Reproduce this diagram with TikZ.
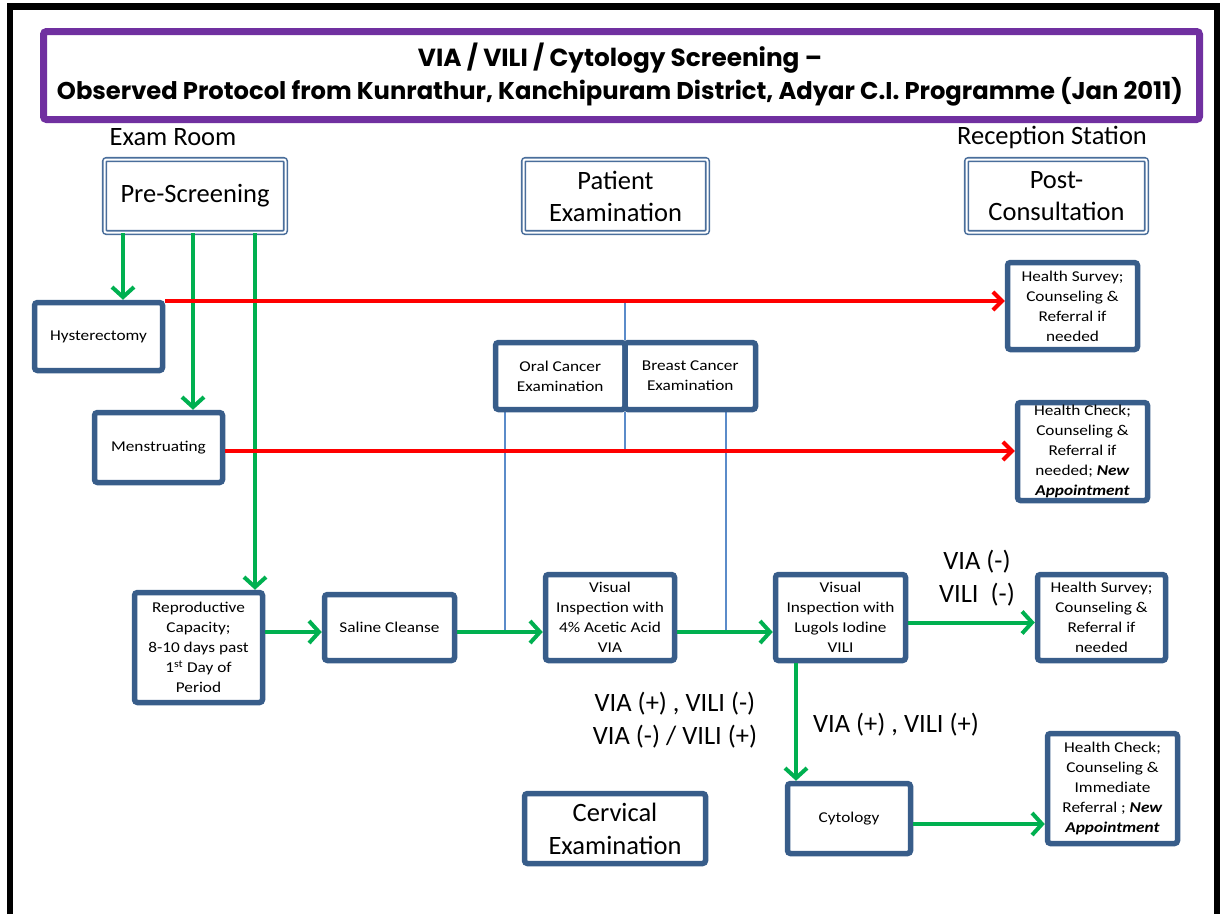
\documentclass[tikz,border=0pt]{standalone}
\usepackage{fontspec}
\usepackage{graphicx}
\setmainfont{Carlito}
\newfontfamily\smallfont{Carlito}[FakeStretch=1.15]
\newfontfamily\titlefont{Poppins}
\usetikzlibrary{arrows.meta}
\pgfdeclarelayer{background}
\pgfsetlayers{background,main}

\definecolor{boxblue}{HTML}{385D8A}
\definecolor{dblblue}{HTML}{4A6E9B}
\definecolor{flowgreen}{HTML}{00B050}
\definecolor{flowred}{HTML}{FF0000}
\definecolor{titlepurple}{HTML}{7030A0}
\definecolor{linkblue}{HTML}{5B8BC9}

\tikzset{
  stepbox/.style={draw=boxblue, line width=5.5pt, rounded corners=3pt, fill=white,
    align=center, inner sep=2pt, font=\smallfont\fontsize{15}{20}\selectfont},
  bigbox/.style={stepbox, font=\fontsize{26.5}{33}\selectfont},
  headbox/.style={draw=dblblue, double=white, double distance=2pt, line width=1.6pt,
    rounded corners=2pt, fill=white, align=center, font=\fontsize{26.5}{32}\selectfont},
  garrow/.style={draw=flowgreen, line width=4pt, -{Straight Barb[length=10pt,width=22pt]}},
  rarrow/.style={draw=flowred, line width=4pt, -{Straight Barb[length=9pt,width=18pt]}},
  link/.style={draw=linkblue, line width=1.4pt},
  caption/.style={font=\fontsize{26.5}{33}\selectfont, align=center, inner sep=0pt},
  titleline/.style={font=\titlefont\bfseries, inner sep=0pt},
}

\begin{document}
\begin{tikzpicture}[x=1pt, y=-1pt]
\useasboundingbox (0,0) rectangle (1220,914);

% outer frame
\draw[line width=6.5pt] (10,914) -- (10,6.5) -- (1217,6.5) -- (1217,914);

% title banner
\node[draw=titlepurple, line width=7pt, rounded corners=3pt, minimum width=1156pt,
      minimum height=88pt, inner sep=0pt] (title) at (621.5,75.5) {};
\node[titleline] (titleA) at (620,58)
  {\resizebox{404pt}{!}{VIA / VILI / Cytology Screening –}};
\node[titleline] (titleB) at (620,92)
  {\resizebox{1126pt}{!}{Observed Protocol from Kunrathur, Kanchipuram District, Adyar C.I. Programme (Jan 2011)}};

% station captions
\node[caption] (examroom) at (173,137) {Exam Room};
\node[caption] (reception) at (1052,137) {Reception Station};

% section heads
\node[headbox, minimum width=181pt, minimum height=73pt] (pre) at (195,196) {Pre-Screening};
\node[headbox, minimum width=184pt, minimum height=73pt] (patient) at (615.5,196) {Patient\\Examination};
\node[headbox, minimum width=180pt, minimum height=73pt] (post) at (1056.5,196) {Post-\\Consultation};

% coordinates of the connector rows
\coordinate (rowA) at (0,632);
\coordinate (redA) at (0,301);
\coordinate (redB) at (0,451);
\coordinate (midtop) at (625,301);
\coordinate (midbot) at (625,451);
\coordinate (leftlow) at (505,632);
\coordinate (rightlow) at (726,632);

% joint examinations
\node[stepbox, minimum width=129.5pt, minimum height=67pt] (oral) at (560.25,376) {Oral Cancer\\Examination};
\node[stepbox, minimum width=130.5pt, minimum height=67pt] (breast) at (690.25,376) {Breast Cancer\\Examination};

% thin links behind the boxes
\begin{pgfonlayer}{background}
\draw[link] (midtop) -- (midtop |- oral.north);
\draw[link] (midbot |- oral.south) -- (midbot);
\draw[link] (leftlow |- oral.south) -- (leftlow);
\draw[link] (rightlow |- breast.south) -- (rightlow);
\end{pgfonlayer}

% flow steps
\node[stepbox, minimum width=128pt, minimum height=68pt] (hyst) at (98.5,336.5) {Hysterectomy};
\node[stepbox, minimum width=128pt, minimum height=70pt] (mens) at (158.5,447.5) {Menstruating};
\node[stepbox, minimum width=128pt, minimum height=110pt] (repro) at (198.5,647.5)
  {Reproductive\\Capacity;\\8-10 days past\\1\textsuperscript{st} Day of\\Period};
\node[stepbox, minimum width=130pt, minimum height=66pt] (saline) at (389.5,627.5) {Saline Cleanse};
\node[stepbox, minimum width=129pt, minimum height=86pt] (via) at (610,617.5)
  {Visual\\Inspection with\\4\% Acetic Acid\\VIA};
\node[stepbox, minimum width=130pt, minimum height=86pt] (vili) at (840.5,617.5)
  {Visual\\Inspection with\\Lugols Iodine\\VILI};
\node[stepbox, minimum width=123pt, minimum height=70pt] (cyto) at (849,818.5) {Cytology};
\node[bigbox, minimum width=181pt, minimum height=70pt] (cervical) at (615,828.5) {Cervical\\Examination};

% outcomes
\node[stepbox, minimum width=130pt, minimum height=87pt] (survA) at (1072.5,306)
  {Health Survey;\\Counseling \&\\Referral if\\needed};
\node[stepbox, minimum width=130pt, minimum height=98pt] (checkA) at (1082.5,451.5)
  {Health Check;\\Counseling \&\\Referral if\\needed; \textbf{\textit{New}}\\\textbf{\textit{Appointment}}};
\node[stepbox, minimum width=128pt, minimum height=86pt] (survB) at (1101.5,617.5)
  {Health Survey;\\Counseling \&\\Referral if\\needed};
\node[stepbox, minimum width=130pt, minimum height=110pt] (checkB) at (1112.5,788.5)
  {Health Check;\\Counseling \&\\Immediate\\Referral ; \textbf{\textit{New}}\\\textbf{\textit{Appointment}}};

% result labels
\node[caption] (negneg) at (977,578) {VIA (-)\\VILI\ \ (-)};
\node[caption] (mixed) at (675,720) {VIA (+) , VILI (-)\\VIA (-) / VILI (+)};
\node[caption] (pospos) at (896,725) {VIA (+) , VILI (+)};

% pre-screening branches
\draw[garrow] (pre.south -| 123,0) -- (hyst.north -| 123,0);
\draw[garrow] (pre.south -| 193,0) -- (mens.north -| 193,0);
\draw[garrow] (pre.south -| 255,0) -- (repro.north -| 255,0);

% referrals straight to reception
\draw[rarrow] (hyst.north east |- redA) -- (survA.west |- redA);
\draw[rarrow] (mens.east |- redB) -- (checkA.west |- redB);

% cervical examination sequence
\draw[garrow] (repro.east |- rowA) -- (saline.west |- rowA);
\draw[garrow] (saline.east |- rowA) -- (via.west |- rowA);
\draw[garrow] (via.east |- rowA) -- (vili.west |- rowA);
\draw[garrow] ([yshift=-5pt]vili.east) -- ([yshift=-5pt]survB.west);
\draw[garrow] (vili.south -| 796,0) -- (cyto.north -| 796,0);
\draw[garrow] (cyto.east |- 0,824) -- (checkB.west |- 0,824);

\end{tikzpicture}
\end{document}
